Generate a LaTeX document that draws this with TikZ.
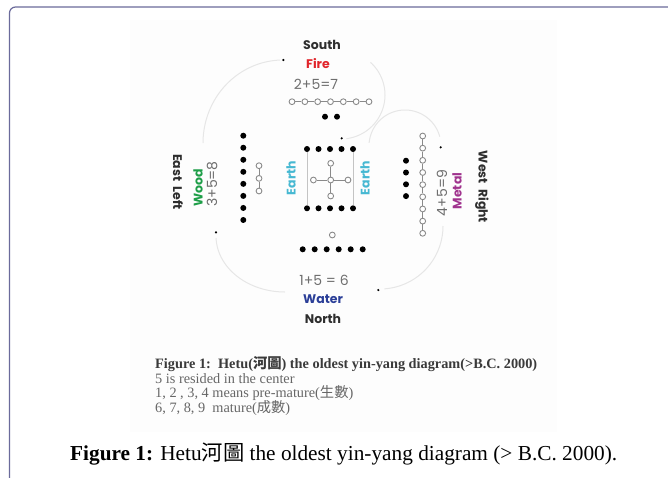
\documentclass[tikz,border=0pt]{standalone}
\usepackage{fontspec}
\setmainfont{Liberation Serif}
\newfontfamily\geo{Poppins}
\newfontfamily\cjk{Noto Sans CJK TC}
\definecolor{framec}{HTML}{6B6B9B}
\definecolor{dk}{HTML}{2E2E2E}
\definecolor{firec}{HTML}{E1252B}
\definecolor{waterc}{HTML}{2B3F98}
\definecolor{woodc}{HTML}{1E9E48}
\definecolor{earthc}{HTML}{46B8D2}
\definecolor{metalc}{HTML}{A0338E}
\definecolor{numgray}{HTML}{6E6E6E}
\definecolor{ogray}{HTML}{8A8A8A}
\definecolor{arcgray}{HTML}{E6E6E6}
\definecolor{sqgray}{HTML}{C4C4C4}
\definecolor{txtone}{HTML}{3A3A3A}
\definecolor{txttwo}{HTML}{666666}
\definecolor{bgimg}{HTML}{FDFDFD}
\tikzset{
  bdot/.style={circle, fill=black, inner sep=0pt, minimum size=6pt},
  odot/.style={circle, draw=ogray, fill=white, line width=0.9pt, inner sep=0pt, minimum size=5.8pt},
  sdot/.style={circle, fill=black, inner sep=0pt, minimum size=2.4pt},
  link/.style={draw=ogray, line width=0.8pt},
  sqline/.style={draw=sqgray, line width=0.6pt},
  swirl/.style={draw=arcgray, line width=1pt},
  lbl/.style={font=\geo\bfseries\fontsize{12.5}{14}\selectfont, inner sep=0pt},
  num/.style={font=\geo\fontsize{14}{16}\selectfont, text=numgray, inner sep=0pt},
  blk/.style={anchor=base west, inner sep=0pt}
}
\begin{document}
\begin{tikzpicture}[x=1pt,y=-1pt]
\useasboundingbox (0,0) rectangle (668,477);
\fill[white] (0,0) rectangle (668,477);
\fill[bgimg] (130,20) rectangle (557,432);
\draw[draw=framec, line width=1.2pt, rounded corners=6pt] (9.5,490) -- (9.5,7) -- (680,7);

% swirl arcs
\draw[swirl] plot[domain=180:268, samples=40, variable=\t] ({283+80*cos(\t)},{143+83*sin(\t)});
\draw[swirl] plot[domain=312:443, samples=50, variable=\t] ({341+44*cos(\t)},{95+44*sin(\t)});
\draw[swirl] plot[domain=185:345, samples=50, variable=\t] ({405+36*cos(\t)},{146+36*sin(\t)});
\draw[swirl] plot[domain=0:86, samples=40, variable=\t] ({380+63*cos(\t)},{226+63*sin(\t)});
\draw[swirl] plot[domain=90:178, samples=40, variable=\t] ({285+69*cos(\t)},{236+56*sin(\t)});
\node[sdot] (s1) at (283.3,60) {};
\node[sdot] (s2) at (341.7,138.3) {};
\node[sdot] (s3) at (440.7,147.3) {};
\node[sdot] (s4) at (378.3,290) {};
\node[sdot] (s5) at (216,232.3) {};

% Fire: 7 open, 2 black
\foreach \i in {1,...,7} \node[odot] (f\i) at ({292+(\i-1)*12.83},101.7) {};
\foreach \i [count=\j from 2] in {1,...,6} \draw[link] (f\i) -- (f\j);
\node[bdot] (fb1) at (325,116.7) {};
\node[bdot] (fb2) at (337,116.7) {};

% Wood: 8 black, 3 open
\foreach \i in {1,...,8} \node[bdot] (w\i) at (243.3,{135.7+(\i-1)*12.04}) {};
\foreach \i in {1,...,3} \node[odot] (wo\i) at (259,{165.7+(\i-1)*12.65}) {};
\draw[link] (wo1) -- (wo2); \draw[link] (wo2) -- (wo3);

% Center
\foreach \i in {1,...,5} {
  \node[bdot] (t\i) at ({307+(\i-1)*11.5},149) {};
  \node[bdot] (b\i) at ({307+(\i-1)*11.5},208.3) {};
}
\draw[sqline] (t1) -- (b1);
\draw[sqline] (t5) -- (b5);
\node[odot] (c0) at (330.7,180) {};
\node[odot] (ct) at (330.7,163.3) {};
\node[odot] (cb) at (330.7,196) {};
\node[odot] (cl) at (313.4,180) {};
\node[odot] (cr) at (348,180) {};
\draw[link] (c0) -- (ct); \draw[link] (c0) -- (cb);
\draw[link] (c0) -- (cl); \draw[link] (c0) -- (cr);

% Water: 1 open, 6 black
\node[odot] (wa0) at (332.3,235) {};
\foreach \i in {1,...,6} \node[bdot] (wa\i) at ({302.7+(\i-1)*12},249.3) {};

% Metal: 4 black, 9 open
\foreach \i in {1,...,4} \node[bdot] (m\i) at (406,{160.7+(\i-1)*11.8}) {};
\foreach \i in {1,...,9} \node[odot] (mo\i) at (422.7,{136+(\i-1)*12.16}) {};
\foreach \i [count=\j from 2] in {1,...,8} \draw[link] (mo\i) -- (mo\j);

% labels
\node[lbl, text=dk] (south) at (322,45) {South};
\node[lbl, text=firec] (fire) at (318,64) {Fire};
\node[num] (n7) at (316,84) {2+5=7};
\node[num] (n6) at (324,280) {1+5 = 6};
\node[lbl, text=waterc] (water) at (323,299) {Water};
\node[lbl, text=dk] (north) at (323,319) {North};
\node[lbl, text=dk, rotate=-90] (east) at (178,182) {East\ \ Left};
\node[lbl, text=woodc, rotate=90] (wood) at (198,188) {Wood};
\node[num, rotate=90] (n8) at (212,184) {3+5=8};
\node[lbl, text=earthc, rotate=90] (earthl) at (291,178) {Earth};
\node[lbl, text=earthc, rotate=90] (earthr) at (365,178) {Earth};
\node[num, rotate=90] (n9) at (442,193) {4+5=9};
\node[lbl, text=metalc, rotate=90] (metal) at (457,191) {Metal};
\node[lbl, text=dk, rotate=-90] (west) at (482,187) {West\ \ Right};

% inner caption block
\node[blk, text=txtone, font=\fontsize{14.3}{16}\selectfont\bfseries] (l1) at (155,368)
  {Figure 1:\ \ Hetu({\cjk 河圖}) the oldest yin-yang diagram(>B.C. 2000)};
\node[blk, text=txttwo, font=\fontsize{14.3}{16}\selectfont] (l2) at (155,383)
  {5 is resided in the center};
\node[blk, text=txttwo, font=\fontsize{14.3}{16}\selectfont] (l3) at (155,397.5)
  {1, 2 , 3, 4 means pre-mature({\cjk 生數})};
\node[blk, text=txttwo, font=\fontsize{14.3}{16}\selectfont] (l4) at (155,412)
  {6, 7, 8, 9\ \ mature({\cjk 成數})};

% figure caption
\node[blk, text=black, font=\fontsize{21.3}{24}\selectfont] (cap) at (70,460)
  {\textbf{Figure 1:} Hetu{\cjk 河圖} the oldest yin-yang diagram (> B.C. 2000).};
\end{tikzpicture}
\end{document}
